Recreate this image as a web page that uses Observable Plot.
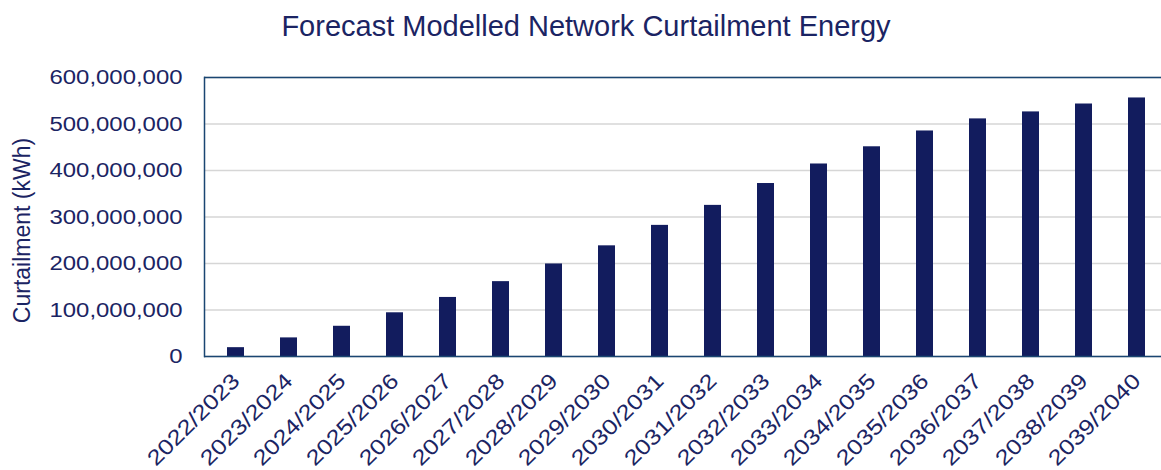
<!DOCTYPE html>
<html>
<head>
<meta charset="utf-8">
<script src="https://cdn.jsdelivr.net/npm/d3@7"></script>
<script src="https://cdn.jsdelivr.net/npm/@observablehq/plot@0.6"></script>
<style>
  html, body { margin: 0; padding: 0; background: #fff; }
  body { width: 1161px; height: 470px; overflow: hidden; font-family: "Liberation Sans", Arial, sans-serif; }
  #title { height: 40.5px; padding-top: 11.5px; line-height: 29px; text-align: center; font-size: 29px; color: #1b2463; padding-left: 11px; box-sizing: content-box; }
</style>
</head>
<body>
<div id="title">Forecast Modelled Network Curtailment Energy</div>
<div id="chart"></div>
<script>
const years = ["2022/2023","2023/2024","2024/2025","2025/2026","2026/2027","2027/2028","2028/2029","2029/2030","2030/2031","2031/2032","2032/2033","2033/2034","2034/2035","2035/2036","2036/2037","2037/2038","2038/2039","2039/2040"];
const curtailment = [19e6, 40e6, 65e6, 94e6, 127e6, 161e6, 199e6, 238e6, 282e6, 325e6, 372e6, 414e6, 451e6, 485e6, 511e6, 526e6, 543e6, 556e6];
const yTicks = [0, 100e6, 200e6, 300e6, 400e6, 500e6, 600e6];

const data = years.map((y, i) => ({year: y, value: curtailment[i]}));
const navy = "#121c5e";
const textColor = "#1b2463";
const frameColor = "#1a4672";

const chart = Plot.plot({
  width: 1161,
  height: 418,
  marginLeft: 204,
  marginRight: 0,
  marginTop: 25,
  marginBottom: 114,
  style: {fontFamily: "'Liberation Sans', Arial, sans-serif", fontSize: "21px", color: textColor, background: "transparent", overflow: "visible"},
  x: {domain: years, range: [204, 1168], paddingInner: 0.68, paddingOuter: 0.34, label: null},
  y: {domain: [0, 600e6], label: null},
  marks: [
    Plot.gridY(yTicks, {stroke: "#d6d6d6", strokeOpacity: 1, strokeWidth: 1.5}),
    Plot.barY(data, {x: "year", y: "value", fill: navy}),
    Plot.ruleY([0, 600e6], {stroke: frameColor, strokeWidth: 1.5}),
    Plot.frame({anchor: "left", stroke: frameColor, strokeWidth: 1.5}),
    Plot.axisX({tickRotate: -45, tickSize: 0, tickPadding: 21, fontSize: 21.5}),
    Plot.axisY(yTicks, {tickFormat: d3.format(","), tickSize: 0, tickPadding: 22, fontSize: 21, label: null})
  ]
});
document.getElementById("chart").appendChild(chart);

// Stretch tick label glyphs horizontally, as in the reference
function stretch(selector, k) {
  chart.querySelectorAll(selector).forEach(t => {
    const xa = t.getAttribute("x");
    const x = xa != null && isFinite(+xa) ? +xa : 0;
    if (xa != null && isFinite(+xa)) t.removeAttribute("x");
    const tr = t.getAttribute("transform") || "";
    t.setAttribute("transform", `${tr} translate(${x},0) scale(${k},1)`.trim());
  });
}
stretch('g[aria-label="y-axis tick label"] text', 1.14);
stretch('g[aria-label="x-axis tick label"] text', 1.18);

const svg = d3.select(chart);
svg.append("text")
  .attr("transform", `translate(24, ${25 + 279 / 2 + 14}) rotate(-90)`)
  .attr("text-anchor", "middle")
  .attr("dominant-baseline", "middle")
  .attr("fill", textColor)
  .style("font-size", "23px")
  .text("Curtailment (kWh)");
</script>
</body>
</html>
